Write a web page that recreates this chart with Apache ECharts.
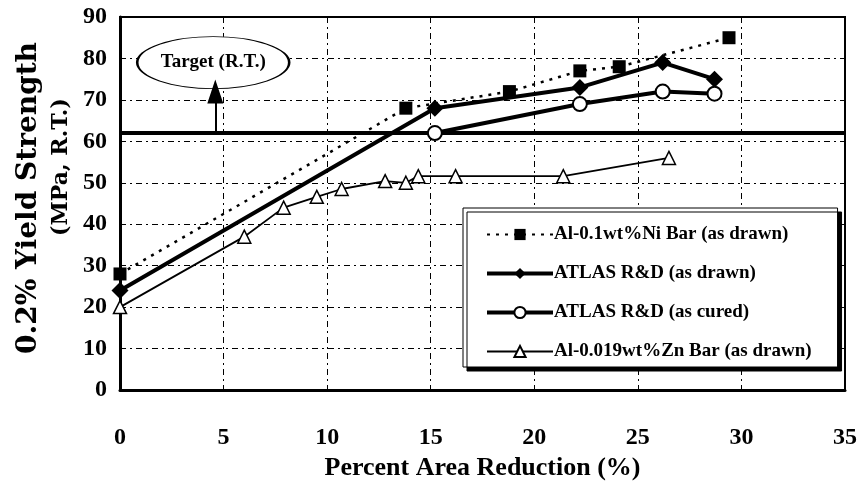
<!DOCTYPE html>
<html>
<head>
<meta charset="utf-8">
<script src="https://cdn.jsdelivr.net/npm/echarts@6/dist/echarts.min.js"></script>
<style>
html,body{margin:0;padding:0;background:#fff;}
#chart{width:861px;height:492px;}
</style>
</head>
<body>
<div id="chart"></div>
<script>
// ---- data ----
var seriesNames = ['Al-0.1wt%Ni Bar (as drawn)', 'ATLAS R&D (as drawn)', 'ATLAS R&D (as cured)', 'Al-0.019wt%Zn Bar (as drawn)'];
var niX = [0, 13.8, 18.8, 22.2, 24.1, 29.4];
var niY = [28, 68, 72, 77, 78, 85];
var drawnX = [0, 15.2, 22.2, 26.2, 28.7];
var drawnY = [24, 68, 73, 79, 75];
var curedX = [15.2, 22.2, 26.2, 28.7];
var curedY = [62, 69, 72, 71.5];
var znX = [0, 6.0, 7.9, 9.5, 10.7, 12.8, 13.8, 14.4, 16.2, 21.4, 26.5];
var znY = [20, 37, 44, 46.6, 48.5, 50.4, 50, 51.6, 51.6, 51.6, 56];
var xMin = 0, xMax = 35, xStep = 5;
var yMin = 0, yMax = 90, yStep = 10;
var targetValue = 62;
var targetArrowX = 4.6;
var targetArrowTop = 72;
var targetLabelPos = [4.5, 79];
var targetLabel = 'Target (R.T.)';
var xTitle = 'Percent Area Reduction (%)';
var yTitle1 = '0.2% Yield Strength';
var yTitle2 = '(MPa, R.T.)';

function pairs(xs, ys) { return xs.map(function (x, i) { return [x, ys[i]]; }); }

var serif = '"Liberation Serif", "Times New Roman", serif';
var gridLine = { color: '#000', width: 1, type: [6, 4, 2, 4] };

var chart = echarts.init(document.getElementById('chart'), null, { renderer: 'canvas' });
chart.setOption({
  animation: false,
  backgroundColor: '#fff',
  grid: { left: 120, right: 16, top: 17, bottom: 102, show: true, borderColor: '#000', borderWidth: 2, backgroundColor: 'transparent' },
  xAxis: {
    type: 'value', min: xMin, max: xMax, interval: xStep,
    name: xTitle, nameLocation: 'middle', nameGap: 60,
    nameTextStyle: { fontFamily: serif, fontWeight: 'bold', fontSize: 26, color: '#000' },
    axisLine: { lineStyle: { color: '#000', width: 3 } },
    axisTick: { show: false },
    axisLabel: { margin: 36, fontFamily: serif, fontWeight: 'bold', fontSize: 24, color: '#000' },
    splitLine: { show: true, lineStyle: gridLine }
  },
  yAxis: {
    type: 'value', min: yMin, max: yMax, interval: yStep,
    axisLine: { show: true, lineStyle: { color: '#000', width: 3 } },
    axisTick: { show: false },
    axisLabel: { margin: 13, fontFamily: serif, fontWeight: 'bold', fontSize: 24, color: '#000' },
    splitLine: { show: true, lineStyle: gridLine }
  },
  legend: {
    data: [
      { name: seriesNames[0] },
      { name: seriesNames[1], lineStyle: { width: 4 } },
      { name: seriesNames[2], lineStyle: { width: 4 } },
      { name: seriesNames[3] }
    ],
    orient: 'vertical', left: 463, top: 208,
    padding: [17, 26, 6, 22],
    itemGap: 20, itemWidth: 66, itemHeight: 14,
    backgroundColor: '#fff', borderColor: '#000', borderWidth: 1, borderRadius: 0,
    shadowColor: '#000', shadowBlur: 0, shadowOffsetX: 4, shadowOffsetY: 4,
    textStyle: { fontFamily: serif, fontWeight: 'bold', fontSize: 19, color: '#000', padding: [0, 0, 0, -4] }
  },
  graphic: [
    { type: 'text', x: 29, y: 198, rotation: Math.PI / 2,
      style: { text: yTitle1, fill: '#000', font: 'bold 28px "DejaVu Serif", serif', textAlign: 'center', textVerticalAlign: 'middle' } },
    { type: 'text', x: 61, y: 167, rotation: Math.PI / 2,
      style: { text: yTitle2, fill: '#000', font: 'bold 22px "DejaVu Serif", serif', textAlign: 'center', textVerticalAlign: 'middle' } }
  ],
  series: [
    {
      name: 'target', type: 'scatter', silent: true, z: 3,
      data: [targetLabelPos],
      symbol: 'circle', symbolSize: [152, 52],
      itemStyle: { color: '#fff', opacity: 1, borderColor: '#000', borderWidth: 1.5 },
      label: { show: true, position: 'inside', formatter: targetLabel, fontFamily: serif, fontWeight: 'bold', fontSize: 19, color: '#000' },
      markLine: {
        silent: true, animation: false,
        symbol: ['none', 'none'],
        label: { show: false },
        data: [
          { yAxis: targetValue, lineStyle: { color: '#000', width: 4, type: 'solid' } },
          [{ coord: [targetArrowX, targetValue], symbol: 'none' },
           { coord: [targetArrowX, targetArrowTop], symbol: 'triangle', symbolSize: [16, 24], lineStyle: { color: '#000', width: 2, type: 'solid' } }]
        ],
        lineStyle: { color: '#000', width: 2, type: 'solid' }
      }
    },
    {
      name: seriesNames[0], type: 'line', z: 5,
      data: pairs(niX, niY),
      symbol: 'rect', symbolSize: 13,
      itemStyle: { color: '#000' },
      lineStyle: { color: '#000', width: 2.5, type: [3, 6] }
    },
    {
      name: seriesNames[1], type: 'line', z: 6,
      data: pairs(drawnX, drawnY),
      symbol: 'diamond', symbolSize: 17,
      itemStyle: { color: '#000' },
      lineStyle: { color: '#000', width: 4 }
    },
    {
      name: seriesNames[2], type: 'line', z: 6,
      data: pairs(curedX, curedY),
      symbol: 'circle', symbolSize: 14,
      itemStyle: { color: '#fff', borderColor: '#000', borderWidth: 2 },
      lineStyle: { color: '#000', width: 4 }
    },
    {
      name: seriesNames[3], type: 'line', z: 7,
      data: pairs(znX, znY),
      symbol: 'triangle', symbolSize: 13,
      itemStyle: { color: '#fff', borderColor: '#000', borderWidth: 1.5 },
      lineStyle: { color: '#000', width: 1.8 }
    }
  ]
});
</script>
</body>
</html>
